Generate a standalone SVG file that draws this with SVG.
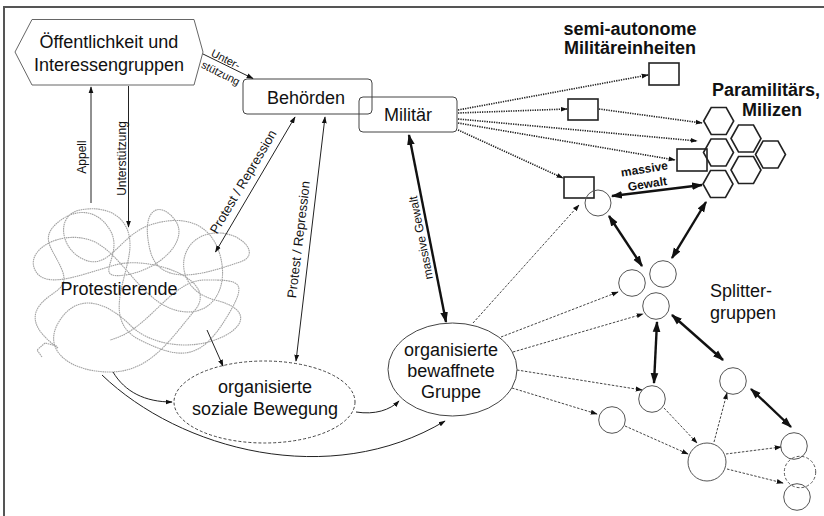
<svg xmlns="http://www.w3.org/2000/svg" width="824" height="516" viewBox="0 0 824 516">
<style>
text{font-family:"Liberation Sans",Arial,sans-serif;fill:#111}
.lbl{font-size:18px}
.sm{font-size:12px}
.bold{font-weight:bold}
.thin{fill:none;stroke:#222;stroke-width:1}
.thick{fill:none;stroke:#111;stroke-width:2.4}
.mil{fill:none;stroke:#222;stroke-width:1.6;stroke-dasharray:1.3 1.1}
.dash{fill:none;stroke:#444;stroke-width:1;stroke-dasharray:2.5 1.5}
.box{fill:none;stroke:#222;stroke-width:1.6}
.hex{fill:none;stroke:#222;stroke-width:1.6}
.circ{fill:none;stroke:#555;stroke-width:1}
</style>
<defs>
<marker id="a" viewBox="0 0 10 10" refX="9" refY="5" markerWidth="7" markerHeight="7" markerUnits="userSpaceOnUse" orient="auto-start-reverse"><path d="M0,1.5 L10,5 L0,8.5 z" fill="#111"/></marker>
<marker id="ab" viewBox="0 0 10 10" refX="9" refY="5" markerWidth="11" markerHeight="11" markerUnits="userSpaceOnUse" orient="auto-start-reverse"><path d="M0,1.5 L10,5 L0,8.5 z" fill="#111"/></marker>
</defs>
<rect width="824" height="516" fill="#fff"/>
<path d="M4,516 L4,7 L824,7" fill="none" stroke="#555" stroke-width="2"/>

<g id="oeffentlichkeit">
<polygon points="15,52 32,19.5 194,19.5 203,52 194,85 32,85" fill="none" stroke="#666" stroke-width="1"/>
<text class="lbl" x="109" y="48" text-anchor="middle">Öffentlichkeit und</text>
<text class="lbl" x="109" y="71" text-anchor="middle">Interessengruppen</text>
</g>
<g id="behoerden">
<rect x="243" y="79" width="129" height="35" rx="4" fill="none" stroke="#444" stroke-width="1"/>
<text class="lbl" x="306" y="104" text-anchor="middle">Behörden</text>
</g>
<g id="militaer">
<rect x="359" y="97" width="98" height="35" rx="4" fill="none" stroke="#444" stroke-width="1"/>
<text class="lbl" x="408" y="121" text-anchor="middle">Militär</text>
</g>
<g id="protestierende">
<path d="M42,357 L37,350 L45,343 L57,346 M58,348 C40,335 28,320 40,305 S70,290 62,270 S40,240 55,225 S95,205 110,230 S90,280 125,275 S190,240 175,220 S140,208 150,250 S215,270 240,262 S235,225 205,235 S175,290 215,300 S243,330 215,340 S150,345 130,325 S80,290 60,320 S70,372 110,372 S170,340 195,310 S150,255 115,265 S45,290 35,270 S60,230 90,240 S140,300 175,310 S230,290 220,255 S180,215 150,225 S110,270 85,260 S55,215 80,210 S130,215 130,245 S100,320 140,340 S200,360 225,320 S240,280 205,280 S150,330 110,340" fill="none" stroke="#a3a3a3" stroke-width="1.1" stroke-dasharray="1.6 0.6"/>
<text class="lbl" x="119" y="295" text-anchor="middle">Protestierende</text>
</g>
<g id="soziale-bewegung">
<ellipse cx="264.5" cy="402" rx="90.5" ry="41" fill="none" stroke="#444" stroke-width="1" stroke-dasharray="3 2"/>
<text class="lbl" x="265" y="393" text-anchor="middle">organisierte</text>
<text class="lbl" x="265" y="415" text-anchor="middle">soziale Bewegung</text>
</g>
<g id="bewaffnete-gruppe">
<ellipse cx="452.5" cy="369.5" rx="64.5" ry="46.5" fill="none" stroke="#444" stroke-width="1"/>
<text class="lbl" x="451" y="356" text-anchor="middle">organisierte</text>
<text class="lbl" x="451" y="377" text-anchor="middle">bewaffnete</text>
<text class="lbl" x="451" y="398" text-anchor="middle">Gruppe</text>
</g>
<g id="semi-autonome">
<text class="lbl bold" x="630" y="35" text-anchor="middle">semi-autonome</text>
<text class="lbl bold" x="630" y="54" text-anchor="middle">Militäreinheiten</text>
<rect class="box" x="649" y="63" width="30" height="22"/>
<rect class="box" x="568" y="99" width="30" height="21"/>
<rect class="box" x="677" y="149" width="30" height="22"/>
<rect class="box" x="564" y="177" width="30" height="21"/>
</g>
<g id="paramilitaers">
<text class="lbl bold" x="712" y="96">Paramilitärs,</text>
<text class="lbl bold" x="742" y="116">Milizen</text>
<polygon class="hex" points="703.7,121 711.2,107.5 726.2,107.5 733.7,121 726.2,134.5 711.2,134.5"/>
<polygon class="hex" points="731,138.5 738.5,125 753.5,125 761,138.5 753.5,152 738.5,152"/>
<polygon class="hex" points="703.5,152.5 711,139 726,139 733.5,152.5 726,166 711,166"/>
<polygon class="hex" points="755.5,154.5 763,141 778,141 785.5,154.5 778,168 763,168"/>
<polygon class="hex" points="731,170 738.5,156.5 753.5,156.5 761,170 753.5,183.5 738.5,183.5"/>
<polygon class="hex" points="703,184 710.5,170.5 725.5,170.5 733,184 725.5,197.5 710.5,197.5"/>
</g>
<g id="splittergruppen">
<text class="lbl" x="710" y="297">Splitter-</text>
<text class="lbl" x="710" y="319">gruppen</text>
<circle class="circ" cx="598" cy="203" r="13"/>
<circle class="circ" cx="632" cy="283" r="13.3"/>
<circle class="circ" cx="663" cy="274" r="13.3"/>
<circle class="circ" cx="656" cy="306" r="13.3"/>
<circle class="circ" cx="652" cy="399" r="13.3"/>
<circle class="circ" cx="612" cy="420" r="13.3"/>
<circle class="circ" cx="707" cy="462" r="19"/>
<circle class="circ" cx="733" cy="381" r="13.3"/>
<circle class="circ" cx="794" cy="446" r="13.3"/>
<circle class="circ" cx="800" cy="472" r="15.7" stroke-dasharray="3 2"/>
<circle class="circ" cx="797" cy="497" r="13.3"/>
</g>

<g id="connectors">
<line class="thin" x1="91" y1="203" x2="91" y2="87" marker-end="url(#a)"/>
<line class="thin" x1="128.5" y1="86" x2="128.5" y2="227" marker-end="url(#a)"/>
<line class="thin" x1="203" y1="54" x2="253" y2="78.5" marker-end="url(#a)"/>
<line class="thin" x1="295" y1="117" x2="215.5" y2="252" marker-start="url(#a)" marker-end="url(#a)"/>
<line class="thin" x1="325" y1="117" x2="296" y2="361" marker-start="url(#a)" marker-end="url(#a)"/>
<line class="thick" x1="409" y1="135" x2="446" y2="322" marker-start="url(#ab)" marker-end="url(#ab)"/>
<line class="thin" x1="207" y1="330" x2="223" y2="366" marker-end="url(#a)"/>
<path class="thin" d="M113,372 C125,392 145,402 172,402" marker-end="url(#a)"/>
<path class="thin" d="M102,375 C180,450 330,490 445,421" marker-end="url(#a)"/>
<path class="thin" d="M356,412 C375,415 390,410 399,401" marker-end="url(#a)"/>

<line class="mil" x1="458" y1="110" x2="648" y2="75" marker-end="url(#a)"/>
<line class="mil" x1="458" y1="113" x2="567" y2="109" marker-end="url(#a)"/>
<line class="mil" x1="599" y1="109" x2="702" y2="123" marker-end="url(#a)"/>
<line class="mil" x1="458" y1="119" x2="697" y2="141" marker-end="url(#a)"/>
<line class="mil" x1="458" y1="123" x2="675" y2="160" marker-end="url(#a)"/>
<line class="mil" x1="458" y1="130" x2="563" y2="178" marker-end="url(#a)"/>

<line class="thick" x1="612" y1="196" x2="702" y2="185" marker-start="url(#ab)" marker-end="url(#ab)"/>
<line class="thick" x1="609" y1="216" x2="642" y2="266" marker-start="url(#ab)" marker-end="url(#ab)"/>
<line class="thick" x1="706" y1="202" x2="672" y2="258" marker-start="url(#ab)" marker-end="url(#ab)"/>
<line class="thick" x1="657" y1="322" x2="654" y2="383" marker-start="url(#ab)" marker-end="url(#ab)"/>
<line class="thick" x1="672" y1="315" x2="723" y2="360" marker-start="url(#ab)" marker-end="url(#ab)"/>
<line class="thick" x1="751" y1="389" x2="791" y2="427" marker-start="url(#ab)" marker-end="url(#ab)"/>

<line class="dash" x1="473" y1="323" x2="579" y2="205" marker-end="url(#a)"/>
<line class="dash" x1="501" y1="337" x2="618" y2="292" marker-end="url(#a)"/>
<line class="dash" x1="513" y1="352" x2="643" y2="314" marker-end="url(#a)"/>
<line class="dash" x1="517" y1="370" x2="642" y2="390" marker-end="url(#a)"/>
<line class="dash" x1="512" y1="388" x2="597" y2="414" marker-end="url(#a)"/>
<line class="dash" x1="664" y1="408" x2="697" y2="443" marker-end="url(#a)"/>
<line class="dash" x1="625" y1="426" x2="688" y2="454" marker-end="url(#a)"/>
<line class="dash" x1="714" y1="442" x2="727" y2="393" marker-end="url(#a)"/>
<line class="dash" x1="726" y1="454" x2="781" y2="447" marker-end="url(#a)"/>
<line class="dash" x1="727" y1="469" x2="783" y2="483" marker-end="url(#a)"/>

<text style="font-size:11px" x="224" y="62.5" text-anchor="middle" transform="rotate(26.6 224 62.5)">Unter-</text>
<text style="font-size:11px" x="219" y="76.5" text-anchor="middle" transform="rotate(26.6 219 76.5)">stützung</text>
<text class="sm" x="86" y="157" text-anchor="middle" transform="rotate(-90 86 157)">Appell</text>
<text class="sm" x="126" y="158.5" text-anchor="middle" transform="rotate(-90 126 158.5)">Unterstützung</text>
<text style="font-size:13px" x="247" y="184" text-anchor="middle" transform="rotate(-59.3 247 184)">Protest / Repression</text>
<text style="font-size:13px" x="303" y="240" text-anchor="middle" transform="rotate(-83.2 303 240)">Protest / Repression</text>
<text class="sm" x="425" y="237" text-anchor="middle" transform="rotate(-101 425 237)">massive Gewalt</text>
<text class="sm bold" x="645" y="173" text-anchor="middle" transform="rotate(-9 645 173)">massive</text>
<text class="sm bold" x="648" y="188" text-anchor="middle" transform="rotate(-9 648 188)">Gewalt</text>
</g>
</svg>
